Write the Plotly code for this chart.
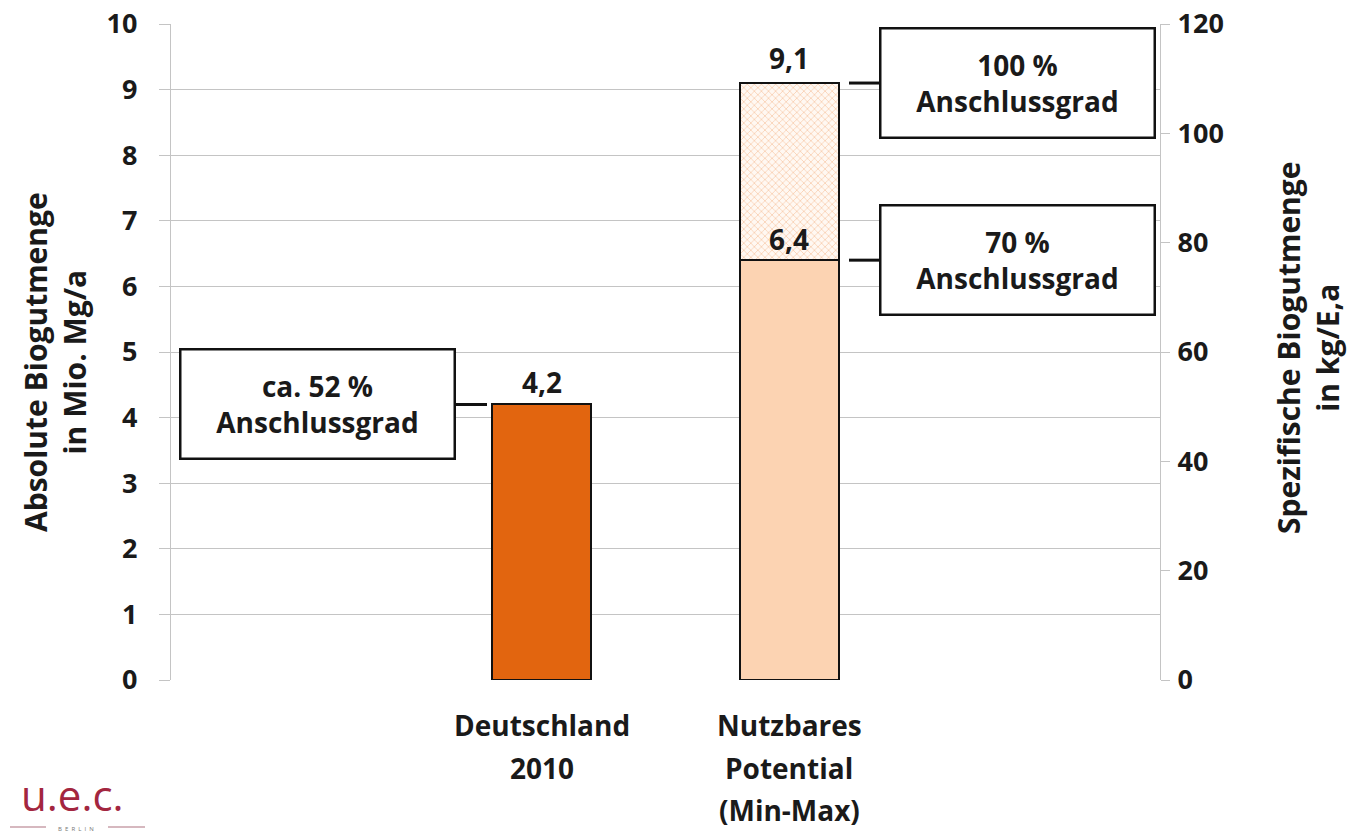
import plotly.graph_objects as go

# Categories (positions 0 and 3 stay empty to leave space on both sides)
cat_pos = [1, 2]
cat_lines = [["Deutschland", "2010"], ["Nutzbares", "Potential", "(Min-Max)"]]

# Absolute amounts in Mio. Mg/a
ist_2010 = 4.2          # ca. 52 % Anschlussgrad
potential_min = 6.4     # 70 % Anschlussgrad
potential_max = 9.1     # 100 % Anschlussgrad

box_texts = ["ca. 52 %<br>Anschlussgrad", "100 %<br>Anschlussgrad", "70 %<br>Anschlussgrad"]

left_ticks = list(range(0, 11))
right_ticks = list(range(0, 121, 20))

FONT = "Open Sans"
TXT = "#1a1a1a"
GRID = "#c4c4c4"
DARK_ORANGE = "#E2650F"
PEACH = "#FCD3B2"

def de(v):
    return f"{v:.1f}".replace(".", ",")

def bold(size):
    return dict(family=FONT, size=size, color=TXT, weight="bold")

fig = go.Figure()

fig.add_bar(x=[cat_pos[0]], y=[ist_2010], width=0.4,
            marker=dict(color=DARK_ORANGE, line=dict(color="#111", width=2.5)),
            showlegend=False, hoverinfo="skip")
fig.add_bar(x=[cat_pos[1]], y=[potential_min], width=0.4,
            marker=dict(color=PEACH, line=dict(color="#111", width=2.5)),
            showlegend=False, hoverinfo="skip")
fig.add_bar(x=[cat_pos[1]], y=[potential_max - potential_min], width=0.4,
            marker=dict(color="#FFF8F2", line=dict(color="#111", width=2.5),
                        pattern=dict(shape="x", size=5, solidity=0.28,
                                     fgcolor="#F8CDAE", bgcolor="#FFF8F2",
                                     fillmode="replace")),
            showlegend=False, hoverinfo="skip")
# registers the secondary (per-capita) axis
fig.add_scatter(x=[], y=[], yaxis="y2", showlegend=False)

# value labels
for xv, yv, shift in [(cat_pos[0], ist_2010, 22), (cat_pos[1], potential_max, 25),
                      (cat_pos[1], potential_min, 21)]:
    fig.add_annotation(x=xv, y=yv, xref="x", yref="y", text=de(yv), showarrow=False,
                       xanchor="center", yanchor="middle", yshift=shift, font=bold(28))

# connection-rate boxes and connector lines
X0, W = 171, 989
Y0, H = 680, 656
def px(p):
    return (p - X0) / W

def py(p):
    return (Y0 - p) / H

boxes = [(317.5, ist_2010, box_texts[0], (456, 487)),
         (1017.5, potential_max, box_texts[1], (849, 879)),
         (1017.5, potential_min, box_texts[2], (849, 879))]
for cx, yv, txt, (l0, l1) in boxes:
    fig.add_annotation(x=px(cx), y=yv, xref="paper", yref="y", text=txt, showarrow=False,
                       xanchor="center", yanchor="middle",
                       width=272, height=107, borderwidth=2.5, bordercolor="#111",
                       borderpad=0, bgcolor="white", align="center", font=bold(28))
    fig.add_shape(type="line", xref="paper", yref="y", x0=px(l0), x1=px(l1), y0=yv, y1=yv,
                  line=dict(color="#111", width=3))

# category labels, one annotation per line
line_y = [725, 768, 810]
for xv, lines in zip(cat_pos, cat_lines):
    for i, ln in enumerate(lines):
        fig.add_annotation(x=xv, y=py(line_y[i]), xref="x", yref="paper",
                           text=ln, showarrow=False, xanchor="center", yanchor="middle",
                           font=bold(28))

# axis titles
fig.add_annotation(x=px(55), y=py(362), xref="paper", yref="paper", textangle=-90,
                   xanchor="center", yanchor="middle",
                   text="Absolute Biogutmenge<br>in Mio. Mg/a", showarrow=False, font=bold(30))
fig.add_annotation(x=px(1308), y=py(348), xref="paper", yref="paper", textangle=-90,
                   xanchor="center", yanchor="middle",
                   text="Spezifische Biogutmenge<br>in kg/E,a", showarrow=False, font=bold(30))

# logo
fig.add_annotation(x=px(72), y=py(824), xref="paper", yref="paper",
                   text="u.e.c.", showarrow=False, xanchor="center", yanchor="bottom",
                   borderpad=0, font=dict(family="Open Sans", size=42, color="#A3263F"))
fig.add_annotation(x=px(76), y=py(829), xref="paper", yref="paper",
                   text="B  E  R  L  I  N", showarrow=False, xanchor="center", yanchor="middle",
                   borderpad=0, font=dict(family="Open Sans", size=6, color="#777"))
for a, b in [(10, 46), (108, 145)]:
    fig.add_shape(type="line", xref="paper", yref="paper", x0=px(a), x1=px(b),
                  y0=py(827), y1=py(827), line=dict(color="#c9a0aa", width=1.5))

fig.update_layout(
    width=1350, height=832,
    margin=dict(l=171, r=190, t=24, b=152, autoexpand=False),
    paper_bgcolor="white", plot_bgcolor="white",
    barmode="stack", bargap=0,
    xaxis=dict(range=[-0.5, 3.5], tickvals=cat_pos, ticktext=["", ""], automargin=False,
               showgrid=False, zeroline=False, showline=False, ticks=""),
    yaxis=dict(range=[0, 10], tickvals=left_ticks, showgrid=True, gridcolor=GRID, gridwidth=1.2,
               zeroline=False, showline=True, linecolor=GRID, linewidth=1.2, automargin=False,
               ticks="outside", ticklen=11, tickcolor=GRID, ticklabelstandoff=16,
               tickfont=bold(27)),
    yaxis2=dict(range=[0, 120], tickvals=right_ticks, overlaying="y", side="right",
                showgrid=False, zeroline=False, showline=True, linecolor=GRID, linewidth=1.2,
                automargin=False, ticks="outside", ticklen=9, tickcolor=GRID,
                ticklabelstandoff=2, tickfont=bold(27)),
)

fig.write_html("out.html")
